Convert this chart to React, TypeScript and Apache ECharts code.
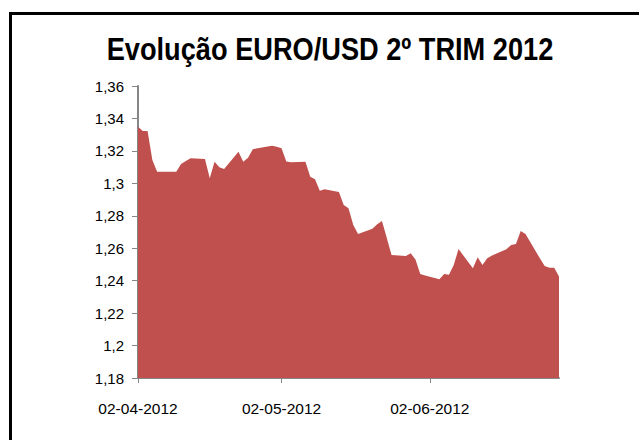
import React, { useEffect, useRef } from "react";
import * as echarts from "echarts";

const titleText = "Evolução EURO/USD 2º TRIM 2012";

const dates: string[] = [
  "2012-04-02", "2012-04-03", "2012-04-04", "2012-04-05", "2012-04-06",
  "2012-04-09", "2012-04-10", "2012-04-11", "2012-04-12", "2012-04-13",
  "2012-04-16", "2012-04-17", "2012-04-18", "2012-04-19", "2012-04-20",
  "2012-04-23", "2012-04-24", "2012-04-25", "2012-04-26", "2012-04-27",
  "2012-04-30", "2012-05-01", "2012-05-02", "2012-05-03", "2012-05-04",
  "2012-05-07", "2012-05-08", "2012-05-09", "2012-05-10", "2012-05-11",
  "2012-05-14", "2012-05-15", "2012-05-16", "2012-05-17", "2012-05-18",
  "2012-05-21", "2012-05-22", "2012-05-23", "2012-05-24", "2012-05-25",
  "2012-05-28", "2012-05-29", "2012-05-30", "2012-05-31", "2012-06-01",
  "2012-06-04", "2012-06-05", "2012-06-06", "2012-06-07", "2012-06-08",
  "2012-06-11", "2012-06-12", "2012-06-13", "2012-06-14", "2012-06-15",
  "2012-06-18", "2012-06-19", "2012-06-20", "2012-06-21", "2012-06-22",
  "2012-06-25", "2012-06-26", "2012-06-27", "2012-06-28", "2012-06-29",
];

const eurUsd: number[] = [
  1.3349, 1.3323, 1.3322, 1.3144, 1.3072,
  1.3072, 1.3072, 1.3119, 1.3138, 1.3154,
  1.3150, 1.3031, 1.3133, 1.3099, 1.3089,
  1.3195, 1.3133, 1.3158, 1.3210, 1.3216,
  1.3232, 1.3226, 1.3216, 1.3135, 1.3130,
  1.3133, 1.3041, 1.3025, 1.2955, 1.2963,
  1.2947, 1.2867, 1.2846, 1.2743, 1.2688,
  1.2720, 1.2748, 1.2768, 1.2663, 1.2558,
  1.2552, 1.2569, 1.2530, 1.2441, 1.2432,
  1.2408, 1.2441, 1.2437, 1.2497, 1.2595,
  1.2476, 1.2544, 1.2497, 1.2538, 1.2555,
  1.2593, 1.2620, 1.2626, 1.2706, 1.2688,
  1.2538, 1.2490, 1.2480, 1.2480, 1.2425,
];

const xTickDates: string[] = ["2012-04-02", "2012-05-02", "2012-06-02"];

const yMin = 1.18;
const yMax = 1.36;
const yStep = 0.02;

function ts(d: string): number {
  const [y, m, dd] = d.split("-").map(Number);
  return Date.UTC(y, m - 1, dd);
}

function fmtDate(v: number): string {
  const d = new Date(v);
  const dd = String(d.getUTCDate()).padStart(2, "0");
  const mm = String(d.getUTCMonth() + 1).padStart(2, "0");
  return `${dd}-${mm}-${d.getUTCFullYear()}`;
}

function fmtNum(v: number): string {
  let s = v.toFixed(2);
  s = s.replace(/0+$/, "").replace(/\.$/, "");
  return s.replace(".", ",");
}

export default function App() {
  const ref = useRef<HTMLDivElement>(null);
  useEffect(() => {
    if (!ref.current) return;
    const chart = echarts.init(ref.current, null, { renderer: "svg" });
    const font = "Liberation Sans";
    const tickVals = xTickDates.map(ts);
    chart.setOption({
      animation: false,
      backgroundColor: "#ffffff",
      grid: { left: 138, right: 80, top: 86, bottom: 62, containLabel: false },
      graphic: [
        {
          type: "rect",
          shape: { x: 10.5, y: 13.5, width: 700, height: 500 },
          style: { fill: "none", stroke: "#000000", lineWidth: 3 },
          silent: true,
        },
        {
          type: "text",
          x: 330,
          y: 49,
          scaleX: 0.85,
          style: {
            text: titleText,
            font: `bold 32px "${font}"`,
            fill: "#000000",
            textAlign: "center",
            textVerticalAlign: "middle",
          },
        },
      ],
      xAxis: {
        type: "value",
        min: ts(dates[0]),
        max: ts(dates[dates.length - 1]),
        splitLine: { show: false },
        axisLine: { lineStyle: { color: "#868686", width: 2 } },
        axisTick: {
          show: true,
          customValues: tickVals,
          length: 5,
          lineStyle: { color: "#868686", width: 1 },
        },
        axisLabel: {
          customValues: tickVals,
          formatter: (v: number) => fmtDate(v),
          fontFamily: font,
          fontSize: 15.5,
          color: "#000000",
          margin: 22,
        },
      },
      yAxis: {
        type: "value",
        min: yMin,
        max: yMax,
        interval: yStep,
        splitLine: { show: false },
        axisLine: { show: true, lineStyle: { color: "#868686", width: 2 } },
        axisTick: { show: true, length: 6, lineStyle: { color: "#868686" } },
        axisLabel: {
          formatter: (v: number) => fmtNum(v),
          fontFamily: font,
          fontSize: 15,
          color: "#000000",
          margin: 14,
        },
      },
      series: [
        {
          type: "line",
          data: dates.map((d, i) => [ts(d), eurUsd[i]]),
          showSymbol: false,
          symbol: "none",
          lineStyle: { width: 0, color: "#C0504D" },
          itemStyle: { color: "#C0504D" },
          areaStyle: { color: "#C0504D", opacity: 1, origin: "start" },
        },
      ],
    });
    return () => chart.dispose();
  }, []);
  return (
    <div
      ref={ref}
      style={{ position: "absolute", left: 0, top: 0, width: 639, height: 440, background: "#fff" }}
    />
  );
}
